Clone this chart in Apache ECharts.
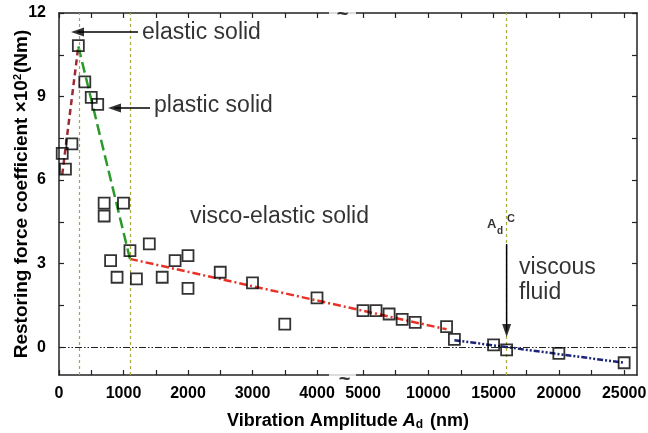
<!DOCTYPE html>
<html>
<head>
<meta charset="utf-8">
<script src="https://cdn.jsdelivr.net/npm/echarts@6.0.0/dist/echarts.min.js"></script>
<style>
  html, body { margin: 0; padding: 0; background: #fff; }
  #main { width: 648px; height: 433px; }
</style>
</head>
<body>
<div id="main"></div>
<script>
//测量点：振幅 (nm) / 恢复力系数 (x10^2 Nm)
var ampX = [50, 100, 200, 300, 400, 500, 600, 700, 700, 800, 900, 1000, 1100, 1200, 1400, 1600,
  1800, 2000, 2000, 2500, 3000, 3500, 4000, 5000, 6000, 7000, 8000, 9000, 11400, 12000, 15000,
  16000, 20000, 25000];
var coefY = [6.96, 6.39, 7.3, 10.83, 9.53, 8.97, 8.72, 5.17, 4.71, 3.11, 2.51, 5.17, 3.47, 2.45, 3.71, 2.51,
  3.11, 3.29, 2.11, 2.69, 2.31, 0.83, 1.77, 1.31, 1.31, 1.19, 1.0, 0.89, 0.74, 0.28, 0.08,
  -0.1, -0.22, -0.56];

//各区段拟合线
var elasticFitX = [50, 300], elasticFitY = [6.2, 10.8];
var plasticFitX = [300, 1100], plasticFitY = [10.8, 3.17];
var viscoFitX = [1100, 11400], viscoFitY = [3.17, 0.64];
var viscousFitX = [12000, 25000], viscousFitY = [0.25, -0.56];

//分区竖线
var phaseX = [320, 1100, 16000];

//注释箭头：杆起点 -> 箭头
var elasticArrowX = [1225, 287], elasticArrowY = [11.32, 11.32];
var plasticArrowX = [1411, 860], plasticArrowY = [8.59, 8.59];
var critArrowX = [16000, 16000], critArrowY = [3.7, 0.6];

//刻度
var xLabels = [0, 1000, 2000, 3000, 4000, 5000, 10000, 15000, 20000, 25000];
var xTicks = [0, 500, 1000, 1500, 2000, 2500, 3000, 3500, 4000,
  5000, 7500, 10000, 12500, 15000, 17500, 20000, 22500, 25000];
var yLabels = [0, 3, 6, 9, 12];
var yTicks = [0, 1.5, 3, 4.5, 6, 7.5, 9, 10.5, 12];

//断轴：4000 以后压缩
var U5 = 4713, SQUEEZE = 4.94, U_MAX = 8961, U_GAP = 4395;
function toU(x){ return x <= 4500 ? x : U5 + (x - 5000) / SQUEEZE; }
function fromU(u){ return u <= 4500 ? Math.round(u) : Math.round((5000 + (u - U5) * SQUEEZE) / 100) * 100; }
function pairs(xs, ys){ return xs.map(function(x, i){ return [toU(x), ys[i]]; }); }

var FONT = '"Liberation Sans", Arial, sans-serif';
var AXIS_COLOR = '#222';

//文字注释（轴坐标：u, y）
var notes = [
  {u: 1287, y: 11.31, text: 'elastic solid', size: 23},
  {u: 1473, y: 8.66, text: 'plastic solid', size: 23},
  {u: 2031, y: 4.67, text: 'visco-elastic solid', size: 23},
  {u: 7132, y: 2.84, text: 'viscous', size: 23},
  {u: 7132, y: 1.94, text: 'fluid', size: 23},
  {u: 6636, y: 4.39, text: 'A', size: 13, bold: true},
  {u: 6791, y: 4.17, text: 'd', size: 10, bold: true},
  {u: 6946, y: 4.6, text: 'C', size: 11, bold: true}
];

var chart = echarts.init(document.getElementById('main'));

function xAxisCfg(pos, withLabel){
  return {
    type: 'value', position: pos, min: 0, max: U_MAX,
    axisLine: {show: true, onZero: false, lineStyle: {color: AXIS_COLOR, width: 1.5}},
    axisTick: {show: true, inside: true, length: 5, customValues: xTicks.map(toU),
      lineStyle: {color: AXIS_COLOR, width: 1.2}},
    axisLabel: {show: withLabel, customValues: xLabels.map(toU), margin: 11,
      formatter: function(v){ return String(fromU(v)); },
      color: '#000', fontFamily: FONT, fontWeight: 'bold', fontSize: 16},
    splitLine: {show: false}
  };
}
function yAxisCfg(pos, withLabel){
  return {
    type: 'value', position: pos, min: -1, max: 12,
    axisLine: {show: true, onZero: false, lineStyle: {color: AXIS_COLOR, width: 1.5}},
    axisTick: {show: true, inside: true, length: 5, customValues: yTicks,
      lineStyle: {color: AXIS_COLOR, width: 1.2}},
    axisLabel: {show: withLabel, customValues: yLabels, margin: 13,
      color: '#000', fontFamily: FONT, fontWeight: 'bold', fontSize: 16},
    splitLine: {show: false}
  };
}

var xBottom = xAxisCfg('bottom', true);
xBottom.name = 'Vibration Amplitude {i|A}{s|d} (nm)';
xBottom.nameLocation = 'middle';
xBottom.nameGap = 36;
xBottom.nameTextStyle = {
  color: '#000', fontFamily: FONT, fontWeight: 'bold', fontSize: 18,
  rich: {
    i: {fontStyle: 'italic', fontWeight: 'bold', fontSize: 18},
    s: {fontWeight: 'bold', fontSize: 12, verticalAlign: 'bottom', padding: [8, 2, 0, 0]}
  }
};

var yLeft = yAxisCfg('left', true);
yLeft.name = 'Restoring force coefficient \u00d710{p|2}(Nm)';
yLeft.nameLocation = 'middle';
yLeft.nameGap = 28;
yLeft.nameMoveOverlap = false;
yLeft.nameTextStyle = {
  color: '#000', fontFamily: FONT, fontWeight: 'bold', fontSize: 19,
  rich: {
    p: {fontSize: 11, verticalAlign: 'top', padding: [0, 1, 8, 0]}
  }
};

function fitLine(xs, ys, color, dash){
  return {
    type: 'line', data: pairs(xs, ys), symbol: 'none', silent: true, z: 3,
    lineStyle: {color: color, width: 2.5, type: dash}
  };
}
//箭头：杆用折线，头用三角形
function arrowShaft(xs, ys){
  return {
    type: 'line', data: pairs(xs, ys), symbol: 'none', silent: true, z: 6,
    lineStyle: {color: '#000', width: 1.5, type: 'solid'}
  };
}
function arrowHead(xs, ys, rot){
  return {
    type: 'scatter', silent: true, z: 6,
    data: [[toU(xs[1]), ys[1]]],
    symbol: 'triangle', symbolSize: [9, 13], symbolRotate: rot,
    itemStyle: {color: '#000'}
  };
}

var option = {
  backgroundColor: '#fff',
  animation: false,
  grid: {left: 59, right: 11, top: 13, bottom: 58, outerBoundsMode: 'none'},
  xAxis: [xBottom, xAxisCfg('top', false)],
  yAxis: [yLeft, yAxisCfg('right', false)],
  series: [
    fitLine(elasticFitX, elasticFitY, '#9b2a35', [6, 4]),
    fitLine(plasticFitX, plasticFitY, '#2a9a2a', [11, 5]),
    fitLine(viscoFitX, viscoFitY, '#e83228', [8, 3, 2, 3]),
    fitLine(viscousFitX, viscousFitY, '#1c2478', [6, 2, 2, 2, 2, 2]),
    {
      type: 'scatter', z: 5,
      data: pairs(ampX, coefY),
      symbol: 'rect', symbolSize: 11,
      itemStyle: {color: 'rgba(0,0,0,0)', borderColor: '#000', borderWidth: 1.8}
    },
    arrowShaft(elasticArrowX, elasticArrowY),
    arrowHead(elasticArrowX, elasticArrowY, 90),
    arrowShaft(plasticArrowX, plasticArrowY),
    arrowHead(plasticArrowX, plasticArrowY, 90),
    arrowShaft(critArrowX, critArrowY),
    arrowHead(critArrowX, critArrowY, 180),
    {
      //文字注释
      type: 'scatter', silent: true, z: 8, clip: false,
      symbolSize: 0,
      data: notes.map(function(n){
        return {value: [n.u, n.y], label: {
          show: true, position: 'right', distance: 0, formatter: n.text,
          color: '#000', fontFamily: FONT, fontSize: n.size, fontWeight: n.bold ? 'bold' : 'normal'
        }};
      })
    },
    {
      //断轴标记
      type: 'scatter', silent: true, z: 7, clip: false,
      symbol: 'rect', symbolSize: [27, 8],
      itemStyle: {color: '#fff'},
      data: [
        {value: [U_GAP, -1], label: {show: true, position: 'inside', offset: [2, 4], formatter: '~',
          color: '#000', fontFamily: FONT, fontWeight: 'bold', fontSize: 20}},
        {value: [U_GAP, 12], label: {show: true, position: 'inside', offset: [0, 1], formatter: '~',
          color: '#000', fontFamily: FONT, fontWeight: 'bold', fontSize: 20}}
      ]
    },
    {
      //分区竖线与零线
      type: 'line', data: [], silent: true,
      markLine: {
        silent: true, animation: false, symbol: ['none', 'none'],
        label: {show: false},
        data: phaseX.map(function(x){
          return {xAxis: toU(x), lineStyle: {color: '#a9a93a', width: 1.2, type: [3, 3]}};
        }).concat([
          {yAxis: 0, lineStyle: {color: '#222', width: 1.2, type: [7, 2, 1.5, 2, 1.5, 2]}}
        ])
      }
    }
  ]
};
chart.setOption(option);
</script>
</body>
</html>
